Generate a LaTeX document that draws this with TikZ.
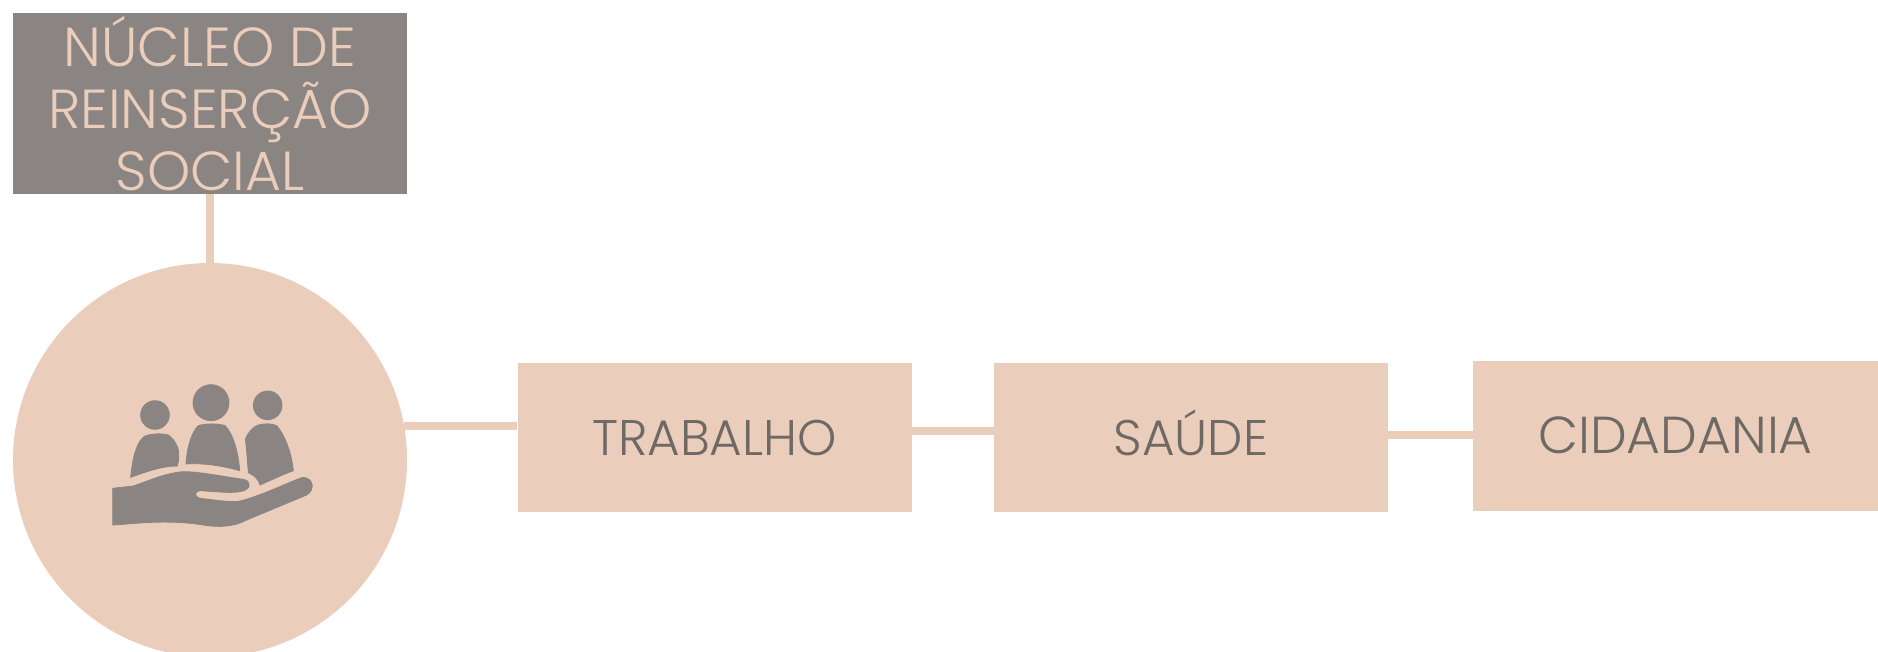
\documentclass[tikz,border=0pt]{standalone}
\usepackage{fontspec}
\setmainfont{Poppins Light}
\definecolor{peach}{HTML}{EBCDBB}
\definecolor{slate}{HTML}{8A8583}
\definecolor{ink}{HTML}{6E6965}
\tikzset{
  box/.style={draw=none,fill=peach,minimum width=394pt,minimum height=149pt,inner sep=0pt,text=ink,text height=35pt,text depth=0pt,font=\fontsize{50}{60}\selectfont},
  link/.style={draw=peach,line width=8.5pt},
  iconfill/.style={fill=slate,draw=slate,line width=0.8pt}
}
\begin{document}
\begin{tikzpicture}[x=1pt,y=-1pt]
\useasboundingbox (0,0) rectangle (1878,652);
\clip (0,0) rectangle (1878,652);
\node[fill=slate,minimum width=394pt,minimum height=181pt,inner sep=0pt,align=center,text=peach,font=\fontsize{55}{62}\selectfont] (title) at (210,103.5) {NÚCLEO DE\\REINSERÇÃO\\SOCIAL};
\node[circle,fill=peach,minimum size=394pt,inner sep=0pt] (hub) at (210,460) {};
\node[box] (b1) at (714.5,437.5) {TRABALHO};
\node[box] (b2) at (1191,437.5) {SAÚDE};
\node[box,minimum width=405pt,minimum height=150pt,font=\fontsize{52}{60}\selectfont,text height=34pt] (b3) at (1675.5,436) {CIDADANIA};
\draw[link] (title.south) -- (hub.north);
\draw[link] (hub.10) -- (hub.10 -| b1.west);
\draw[link] ([yshift=6.5pt]b1.east) -- ([yshift=6.5pt]b2.west);
\draw[link] ([yshift=2.5pt]b2.east) -- ([yshift=2.5pt]b2.east -| b3.west);
\begin{scope}[shift={(90,360)},x=0.33333pt,y=-0.33333pt]
  \path[iconfill] (195,165) circle[radius=43];
  \path[iconfill] (363,128) circle[radius=54];
  \path[iconfill] (533,136) circle[radius=43];
  \path[iconfill] (122,352) .. controls (128,290) and (140,245) .. (165,228) .. controls (190,220) and (215,220) .. (235,225) .. controls (255,240) and (268,265) .. (266,285) .. controls (266,300) and (265,310) .. (262,318) .. controls (215,318) and (170,335) .. (122,352) -- cycle;
  \path[iconfill] (288,312) .. controls (290,265) and (305,215) .. (325,197) .. controls (345,190) and (385,190) .. (405,197) .. controls (425,215) and (445,270) .. (449,332) .. controls (400,318) and (340,308) .. (288,312) -- cycle;
  \path[iconfill] (466,238) .. controls (475,215) and (490,200) .. (505,195) .. controls (525,190) and (545,190) .. (560,197) .. controls (585,225) and (605,280) .. (610,332) .. controls (575,345) and (540,362) .. (510,375) .. controls (505,355) and (490,345) .. (475,338) .. controls (472,300) and (470,265) .. (466,238) -- cycle;
  \path[iconfill] (68,385) -- (68,495) .. controls (150,490) and (230,478) .. (340,495) .. controls (380,502) and (430,502) .. (470,480) -- (650,405) .. controls (675,390) and (672,355) .. (640,352) .. controls (620,355) and (500,415) .. (440,425) .. controls (400,425) and (360,418) .. (330,415) .. controls (312,410) and (312,394) .. (330,392) .. controls (380,395) and (420,400) .. (450,395) .. controls (485,390) and (485,362) .. (460,358) .. controls (400,350) and (330,335) .. (280,335) .. controls (220,340) and (170,365) .. (130,378) -- cycle;
\end{scope}
\end{tikzpicture}
\end{document}
